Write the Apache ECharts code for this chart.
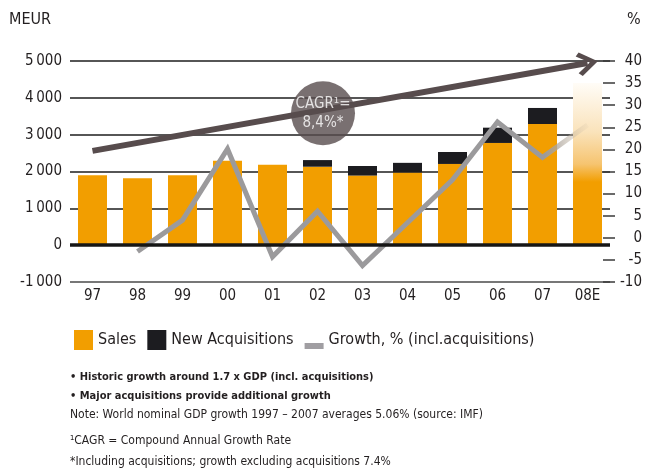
<!DOCTYPE html>
<html>
<head>
<meta charset="utf-8">
<script src="https://cdn.jsdelivr.net/npm/echarts@6/dist/echarts.min.js"></script>
<style>
  html, body { margin: 0; padding: 0; background: #fff; }
  #chart { width: 645px; height: 471px; }
</style>
</head>
<body>
<div id="chart"></div>
<script>
// Sales development, MEUR, with growth rate on the right axis
const years = ['97', '98', '99', '00', '01', '02', '03', '04', '05', '06', '07', '08E'];
const sales = [1900, 1820, 1900, 2290, 2180, 2130, 1890, 1970, 2205, 2775, 3290, 4400];
const acquisitions = [null, null, null, null, null, 180, 260, 265, 325, 415, 435, null];
const growth = [null, -3.1, 4.0, 20.1, -4.3, 6.0, -6.3, 3.4, 13.1, 26.2, 18.2, 25.5];

const leftTicks = [-1000, 0, 1000, 2000, 3000, 4000, 5000];
const leftTickLabels = ['-1\u2009000', '0', '1\u2009000', '2\u2009000', '3\u2009000', '4\u2009000', '5\u2009000'];
const rightTicks = [-10, -5, 0, 5, 10, 15, 20, 25, 30, 35, 40];

// CAGR trend arrow (MEUR) and its bubble
const cagrArrow = [['97', 2560], ['08E', 4945]];
const cagrBubble = ['02', 3580];
const cagrText = 'CAGR\u00b9=\n8,4%*';

const estimateYear = '08E';

const notes = [
  { text: '\u2022 Historic growth around 1.7 x GDP (incl. acquisitions)', bold: true },
  { text: '\u2022 Major acquisitions provide additional growth', bold: true },
  { text: 'Note: World nominal GDP growth 1997 \u2013 2007 averages 5.06% (source: IMF)', bold: false },
  { text: '\u00b9CAGR = Compound Annual Growth Rate', bold: false },
  { text: '*Including acquisitions; growth excluding acquisitions 7.4%', bold: false }
];
const noteCenters = [377, 396, 415, 441, 462];

const FONT = '"DejaVu Sans Condensed", "Liberation Sans", sans-serif';
const TEXT = '#231f20';
const ORANGE = '#f29e00';
const DARK = '#1c1c20';
const GREY = '#9b9a9c';
const ARROW = '#574c4d';

const estimateGradient = new echarts.graphic.LinearGradient(0, 0, 0, 1, [
  { offset: 0, color: '#fffcf7' },
  { offset: 0.3, color: '#fae3bb' },
  { offset: 0.5, color: '#f6c470' },
  { offset: 0.61, color: ORANGE },
  { offset: 1, color: ORANGE }
]);

const salesData = sales.map((v, i) =>
  years[i] === estimateYear ? { value: v, itemStyle: { color: estimateGradient } } : v
);

const growthGradient = new echarts.graphic.LinearGradient(0, 0, 1, 0, [
  { offset: 0, color: GREY },
  { offset: 0.9, color: GREY },
  { offset: 1, color: 'rgba(215,195,165,0.1)' }
]);

// chevron arrow head, pointing up (rotated along the line by ECharts)
const chevron = 'path://M12,0 L24,17 L20.5,20.5 L12,8 L3.5,20.5 L0,17 Z';

const chart = echarts.init(document.getElementById('chart'), null, { renderer: 'canvas' });

chart.setOption({
  animation: false,
  textStyle: { fontFamily: FONT, color: TEXT },
  grid: { left: 70, right: 35, top: 61, bottom: 189, containLabel: false },
  legend: {
    left: 69,
    top: 325,
    itemWidth: 19,
    itemHeight: 20,
    itemGap: 11,
    selectedMode: false,
    textStyle: { fontFamily: FONT, fontSize: 16, color: TEXT, padding: [5, 0, 0, 0] },
    data: [
      { name: 'Sales', icon: 'rect' },
      { name: 'New Acquisitions', icon: 'rect' },
      {
        name: 'Growth, % (incl.acquisitions)',
        icon: 'path://M0,0 M0,13 L19,13 L19,19 L0,19 Z M19,20',
        itemStyle: { color: '#a09ea2' }
      }
    ]
  },
  xAxis: {
    type: 'category',
    data: years,
    boundaryGap: true,
    axisLine: { show: false },
    axisTick: { show: false },
    axisLabel: { fontFamily: FONT, fontSize: 15, color: TEXT, margin: 7 }
  },
  yAxis: [
    {
      type: 'value',
      min: -1000,
      max: 5000,
      interval: 1000,
      axisLine: { show: false },
      axisTick: { show: false },
      axisLabel: {
        fontFamily: FONT,
        fontSize: 15,
        color: TEXT,
        margin: 8,
        formatter: v => leftTickLabels[leftTicks.indexOf(v)]
      },
      splitLine: {
        show: true,
        lineStyle: {
          width: 1.5,
          color: ['#4a4a4a', '#1e1e1e', '#1e1e1e', '#1e1e1e', '#1e1e1e', '#1e1e1e', '#1e1e1e']
        }
      }
    },
    {
      type: 'value',
      position: 'right',
      offset: 5,
      min: rightTicks[0],
      max: rightTicks[rightTicks.length - 1],
      interval: 5,
      axisLine: { show: false },
      axisTick: { show: true, inside: true, length: 12, lineStyle: { color: '#3a3a3a', width: 1.5 } },
      splitLine: { show: false },
      axisLabel: { fontFamily: FONT, fontSize: 15, color: TEXT, margin: 27, align: 'right' }
    }
  ],
  graphic: [
    { type: 'text', left: 9, top: 12, style: { text: 'MEUR', font: '16px ' + FONT, fill: TEXT } },
    { type: 'text', left: 627, top: 12, style: { text: '%', font: '16px ' + FONT, fill: TEXT } }
  ].concat(notes.map((n, i) => {
    const size = n.bold ? 11 : 12;
    return {
      type: 'text',
      left: 70,
      top: noteCenters[i] - size / 2,
      style: { text: n.text, font: (n.bold ? 'bold ' : '') + size + 'px ' + FONT, fill: TEXT }
    };
  })),
  series: [
    {
      name: 'Sales',
      type: 'bar',
      stack: 'total',
      barWidth: 29,
      itemStyle: { color: ORANGE },
      data: salesData,
      z: 2,
      markLine: {
        silent: true,
        symbol: ['none', 'none'],
        label: { show: false },
        emphasis: { disabled: true },
        data: [
          { yAxis: 0, lineStyle: { color: '#161616', width: 3.5, type: 'solid' } },
          [
            { coord: cagrArrow[0], symbol: 'none', lineStyle: { color: ARROW, width: 6, type: 'solid' } },
            { coord: cagrArrow[1], symbol: chevron, symbolSize: [24, 21], lineStyle: { color: ARROW, width: 6, type: 'solid' } }
          ]
        ]
      }
    },
    {
      name: 'New Acquisitions',
      type: 'bar',
      stack: 'total',
      barWidth: 29,
      itemStyle: { color: DARK },
      data: acquisitions,
      z: 2
    },
    {
      name: 'Growth, % (incl.acquisitions)',
      type: 'line',
      yAxisIndex: 1,
      data: growth,
      showSymbol: false,
      symbol: 'none',
      itemStyle: { color: GREY },
      lineStyle: { color: growthGradient, width: 5, join: 'miter' },
      z: 4
    },
    {
      name: 'CAGR',
      type: 'scatter',
      data: [cagrBubble],
      symbol: 'circle',
      symbolSize: 64,
      symbolOffset: [5.5, 0],
      itemStyle: { color: ARROW },
      label: {
        show: true,
        position: 'inside',
        formatter: cagrText,
        color: '#ffffff',
        fontFamily: FONT,
        fontSize: 15,
        lineHeight: 19
      },
      emphasis: { disabled: true },
      z: 6
    }
  ]
});
</script>
</body>
</html>
